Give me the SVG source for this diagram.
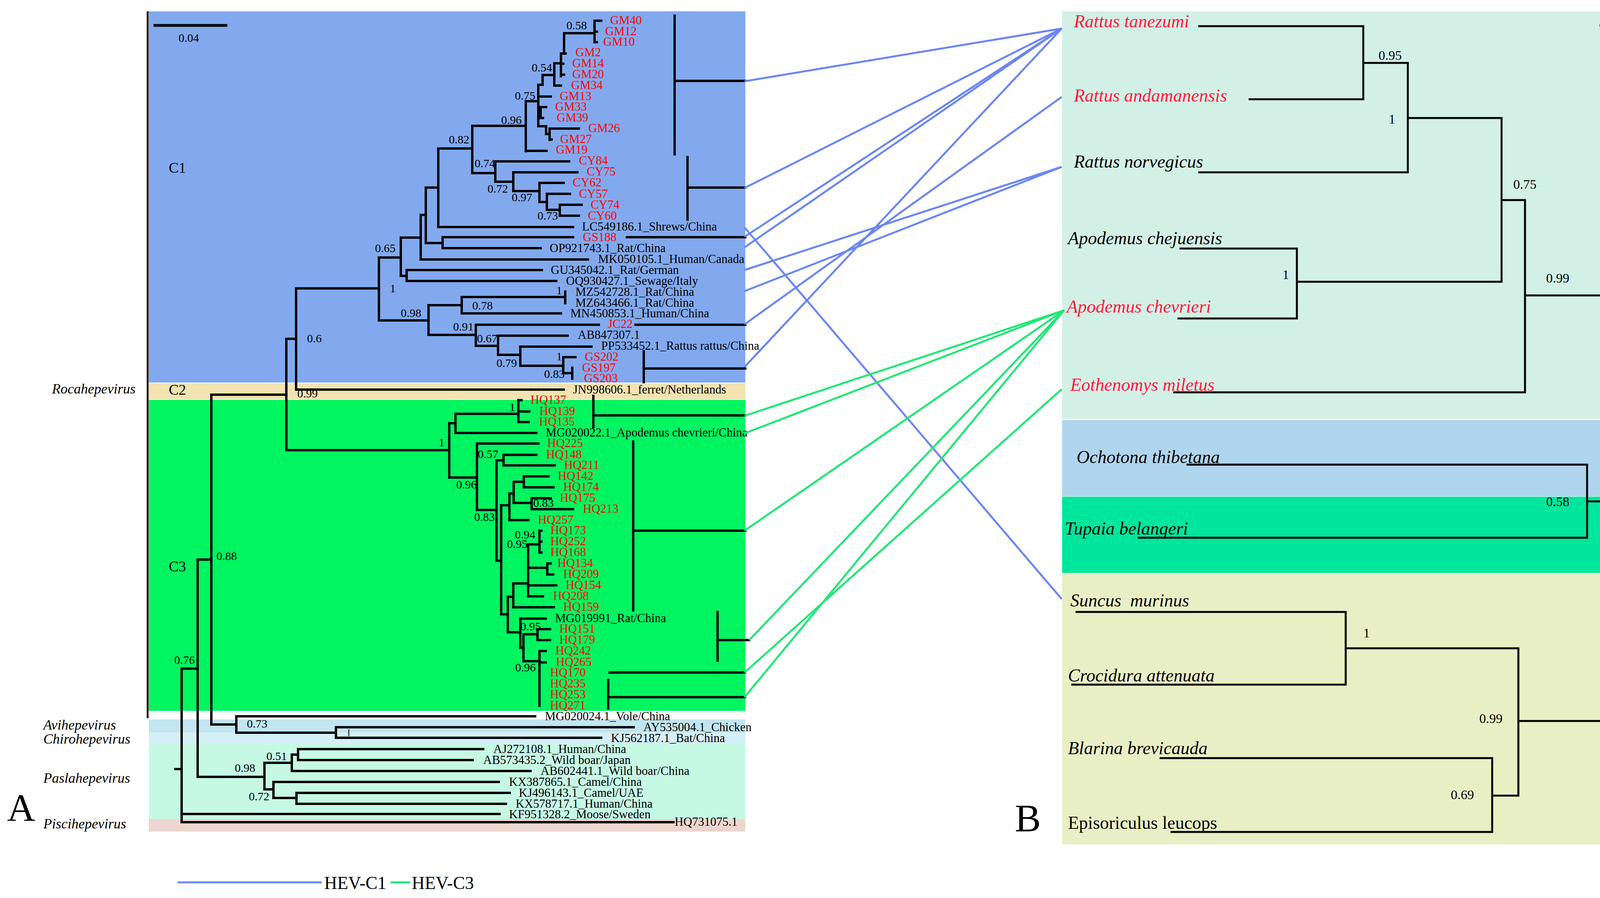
<svg xmlns="http://www.w3.org/2000/svg" width="4406" height="2298" viewBox="0 0 4406 2298">
<style>
text{font-family:"Liberation Serif","Times New Roman",serif;fill:#000}
.tip{font-size:31px}
.r{fill:#ff0000}
.rb{fill:#ff1a3c}
.sv{font-size:30px}
.svb{font-size:34px}
.it{font-style:italic;font-size:36px}
.cl{font-size:38px}
.tb{font-style:italic;font-size:46px}
.t{stroke:#000;stroke-width:6;fill:none;stroke-linecap:square}
.tr{stroke:#000;stroke-width:5;fill:none;stroke-linecap:square}
.c1{stroke:#6a86f2;stroke-width:5;fill:none}
.c3{stroke:#1ee873;stroke-width:5;fill:none}
</style>
<rect width="4406" height="2298" fill="#fff"/>
<g id="panelA-bands">
<rect x="381" y="29" width="1527" height="950" fill="#82a9ee"/>
<rect x="381" y="981" width="1527" height="40" fill="#f2e3b0"/>
<rect x="381" y="1023" width="1527" height="796" fill="#00f560"/>
<rect x="381" y="1841" width="1527" height="33" fill="#c2e5ef"/>
<rect x="381" y="1874" width="1527" height="28" fill="#d4eff6"/>
<rect x="381" y="1902" width="1527" height="194" fill="#c6f9e4"/>
<rect x="381" y="2096" width="1527" height="32" fill="#ecd6cf"/>
<line x1="378" y1="29" x2="378" y2="1838" stroke="#2a1a14" stroke-width="5"/>
</g>
<g id="panelA-labels">
<line x1="393" y1="65" x2="582" y2="65" stroke="#000" stroke-width="7"/>
<text x="457" y="107" class="sv">0.04</text>
<text x="432" y="442" class="cl">C1</text>
<text x="432" y="1010" class="cl">C2</text>
<text x="432" y="1462" class="cl">C3</text>
<text x="133" y="1007" class="it">Rocahepevirus</text>
<text x="111" y="1867" class="it">Avihepevirus</text>
<text x="111" y="1903" class="it">Chirohepevirus</text>
<text x="111" y="2003" class="it">Paslahepevirus</text>
<text x="111" y="2120" class="it">Piscihepevirus</text>
<text x="18" y="2101" font-size="100">A</text>
</g>
<g id="treeA">
<path class="t" d="M1522,53 V108 M1522,53 H1539 M1522,81 H1528 M1522,108 H1528 M1444,85 H1522 M1444,85 V137 M1436,137 H1448 M1436,137 V195 M1436,163 H1442 M1436,191 H1444 M1419,162 H1436 M1419,162 V219 M1419,219 H1436 M1389,192 H1419 M1389,192 V217 M1378,217 H1389 M1378,217 V323 M1378,247 H1410 M1378,274 H1398 M1384,274 V302 H1390 M1378,323 H1398 V343 H1407 M1407,329 V358 M1407,329 H1482 M1407,357 H1412 M1346,259 H1378 M1346,259 V387 M1346,386 H1399 M1209,322 H1346 M1209,322 V443 M1209,443 H1268 M1268,413 V465 M1268,413 H1457 M1268,465 H1314 M1314,441 V489 M1314,441 H1478 M1314,489 H1381 M1381,468 V517 M1381,468 H1443 M1381,517 H1400 M1400,496 V537 M1400,496 H1459 M1400,537 H1433 M1433,524 V552 M1433,524 H1489 M1433,552 H1482 M1122,380 H1209 M1122,380 V581 H1467 M1090,480 H1122 M1090,480 V622 H1133 M1133,607 V635 M1133,607 H1467 M1133,635 H1384 M1077,550 H1090 M1077,550 V664 H1505 M1026,608 H1077 M1026,608 V706 H1041 M1041,691 V719 M1041,691 H1387 M1041,719 H1424 M970,659 H1026 M970,659 V820 H1097 M1097,781 V857 M1097,781 H1182 M1182,760 V802 H1436 M1182,760 H1447 M1447,746 V776 M1097,857 H1218 M1218,831 V885 M1218,831 H1533 M1218,885 H1275 M1275,859 V908 M1275,859 H1453 M1275,908 H1332 M1332,887 V936 M1332,887 H1514 M1332,936 H1442 M1442,914 V955 M1442,914 H1473 M1442,955 H1465 M1465,941 V969 M758,738 H970 M758,738 V997 H1443 M733,867 H758 M733,867 V1152 H1150 M541,1010 H733 M541,1010 V1854 M508,1432 H541 M506,1432 V1988 M465,1711 H506 M465,1711 V2104 M449,1968 H465 M465,2083 H1279 M465,2104 H1724 M541,1854 H605 M605,1833 V1875 M605,1833 H1370 M605,1875 H860 M860,1861 V1888 M860,1861 H1622 M860,1888 H1539 M506,1988 H677 M677,1952 V2020 M677,1952 H747 M747,1931 V1973 M747,1931 H763 M763,1917 V1945 M763,1917 H1237 M763,1945 H1210 M747,1973 H1358 M677,2020 H700 M700,2001 V2042 M700,2001 H1277 M700,2042 H759 M759,2029 V2057 M759,2029 H1305 M759,2057 H1295"/>
<path class="t" d="M1150,1083 V1222 M1150,1083 H1166 M1166,1059 V1108 M1166,1059 H1327 M1327,1024 V1080 M1327,1024 H1335 M1327,1053 H1355 M1327,1080 H1353 M1166,1108 H1373 M1150,1222 H1221 M1221,1135 V1305 M1221,1135 H1378 M1221,1305 H1271 M1271,1178 V1435 M1271,1178 H1289 M1289,1164 V1191 M1289,1164 H1373 M1289,1191 H1420 M1271,1435 H1283 M1283,1293 V1572 M1283,1293 H1304 M1304,1263 V1331 M1304,1263 H1315 M1315,1233 V1287 M1315,1233 H1341 M1341,1219 V1247 M1341,1219 H1404 M1341,1247 H1417 M1315,1287 H1361 M1361,1275 V1303 M1361,1275 H1410 M1361,1303 H1467 M1304,1331 H1353 M1283,1572 H1300 M1300,1527 V1618 M1300,1527 H1314 M1314,1493 V1554 M1314,1554 H1418 M1314,1493 H1352 M1352,1393 V1526 M1352,1393 H1381 M1381,1358 V1414 M1381,1358 H1386 M1381,1386 H1386 M1381,1414 H1386 M1352,1453 H1401 M1401,1442 V1470 M1401,1442 H1410 M1401,1470 H1416 M1352,1498 H1424 M1352,1526 H1390 M1300,1618 H1332 M1332,1583 V1658 M1332,1583 H1397 M1332,1658 H1340 M1340,1623 V1692 M1340,1623 H1376 M1376,1610 V1638 M1376,1610 H1408 M1376,1638 H1408 M1340,1692 H1381 M1381,1666 V1806 M1381,1666 H1397 M1381,1695 H1397"/>
<line x1="893" y1="1866" x2="893" y2="1884" stroke="#000" stroke-width="2"/>
<path class="t" d="M1727,40 V395 M1727,207 H1908 M1760,402 V562 M1760,480 H1908 M1605,607 H1908 M1627,831 H1908 M1648,899 V978 M1648,943 H1908 M1519,1013 V1093 M1519,1063 H1908 M1621,1130 V1562 M1621,1358 H1908 M1837,1566 V1691 M1837,1638 H1918 M1561,1721 H1907 M1557,1740 V1813 M1557,1784 H1907"/>
</g>
<g id="supportA">
<text x="1450" y="75" class="sv">0.58</text>
<text x="1361" y="183" class="sv">0.54</text>
<text x="1318" y="255" class="sv">0.75</text>
<text x="1283" y="317" class="sv">0.96</text>
<text x="1149" y="367" class="sv">0.82</text>
<text x="1215" y="428" class="sv">0.74</text>
<text x="1248" y="493" class="sv">0.72</text>
<text x="1310" y="515" class="sv">0.97</text>
<text x="1376" y="562" class="sv">0.73</text>
<text x="960" y="645" class="sv">0.65</text>
<text x="998" y="748" class="sv">1</text>
<text x="1026" y="811" class="sv">0.98</text>
<text x="1424" y="753" class="sv">1</text>
<text x="1209" y="792" class="sv">0.78</text>
<text x="1160" y="846" class="sv">0.91</text>
<text x="1221" y="876" class="sv">0.67</text>
<text x="1271" y="939" class="sv">0.79</text>
<text x="1424" y="922" class="sv">1</text>
<text x="1393" y="967" class="sv">0.83</text>
<text x="786" y="876" class="sv">0.6</text>
<text x="761" y="1017" class="sv">0.99</text>
<text x="1123" y="1142" class="sv">1</text>
<text x="1304" y="1052" class="sv">1</text>
<text x="1168" y="1250" class="sv">0.96</text>
<text x="1223" y="1172" class="sv">0.57</text>
<text x="1214" y="1333" class="sv">0.83</text>
<text x="1365" y="1297" class="sv">0.83</text>
<text x="1318" y="1378" class="sv">0.94</text>
<text x="1298" y="1402" class="sv">0.95</text>
<text x="1332" y="1613" class="sv">0.95</text>
<text x="1319" y="1718" class="sv">0.96</text>
<text x="554" y="1433" class="sv">0.88</text>
<text x="446" y="1699" class="sv">0.76</text>
<text x="632" y="1862" class="sv">0.73</text>
<text x="601" y="1975" class="sv">0.98</text>
<text x="682" y="1945" class="sv">0.51</text>
<text x="637" y="2048" class="sv">0.72</text>
</g>
<g id="tipsC1" class="tip">
<text x="1562" y="62" class="r">GM40</text>
<text x="1549" y="90" class="r">GM12</text>
<text x="1544" y="117" class="r">GM10</text>
<text x="1473" y="144" class="r">GM2</text>
<text x="1465" y="172" class="r">GM14</text>
<text x="1465" y="200" class="r">GM20</text>
<text x="1462" y="228" class="r">GM34</text>
<text x="1433" y="256" class="r">GM13</text>
<text x="1421" y="283" class="r">GM33</text>
<text x="1425" y="311" class="r">GM39</text>
<text x="1506" y="338" class="r">GM26</text>
<text x="1434" y="366" class="r">GM27</text>
<text x="1423" y="393" class="r">GM19</text>
<text x="1482" y="421" class="r">CY84</text>
<text x="1502" y="449" class="r">CY75</text>
<text x="1466" y="477" class="r">CY62</text>
<text x="1482" y="506" class="r">CY57</text>
<text x="1512" y="534" class="r">CY74</text>
<text x="1505" y="562" class="r">CY60</text>
<text x="1490" y="590">LC549186.1_Shrews/China</text>
<text x="1492" y="617" class="r">GS188</text>
<text x="1407" y="645">OP921743.1_Rat/China</text>
<text x="1531" y="673">MK050105.1_Human/Canada</text>
<text x="1410" y="701">GU345042.1_Rat/German</text>
<text x="1449" y="729">OQ930427.1_Sewage/Italy</text>
<text x="1473" y="757">MZ542728.1_Rat/China</text>
<text x="1473" y="785">MZ643466.1_Rat/China</text>
<text x="1460" y="812">MN450853.1_Human/China</text>
<text x="1556" y="839" class="r">JC22</text>
<text x="1479" y="867">AB847307.1</text>
<text x="1539" y="895">PP533452.1_Rattus rattus/China</text>
<text x="1497" y="923" class="r">GS202</text>
<text x="1490" y="951" class="r">GS197</text>
<text x="1495" y="978" class="r">GS203</text>
</g>
<g id="tipsC2" class="tip">
<text x="1467" y="1007">JN998606.1_ferret/Netherlands</text>
</g>
<g id="tipsC3" class="tip">
<text x="1358" y="1033" class="r">HQ137</text>
<text x="1381" y="1062" class="r">HQ139</text>
<text x="1380" y="1089" class="r">HQ135</text>
<text x="1397" y="1117">MG020022.1_Apodemus chevrieri/China</text>
<text x="1401" y="1144" class="r">HQ225</text>
<text x="1398" y="1173" class="r">HQ148</text>
<text x="1444" y="1200" class="r">HQ211</text>
<text x="1428" y="1228" class="r">HQ142</text>
<text x="1442" y="1256" class="r">HQ174</text>
<text x="1433" y="1284" class="r">HQ175</text>
<text x="1492" y="1312" class="r">HQ213</text>
<text x="1377" y="1340" class="r">HQ257</text>
<text x="1409" y="1367" class="r">HQ173</text>
<text x="1409" y="1395" class="r">HQ252</text>
<text x="1409" y="1423" class="r">HQ168</text>
<text x="1427" y="1451" class="r">HQ134</text>
<text x="1442" y="1479" class="r">HQ209</text>
<text x="1448" y="1507" class="r">HQ154</text>
<text x="1416" y="1535" class="r">HQ208</text>
<text x="1442" y="1563" class="r">HQ159</text>
<text x="1421" y="1592">MG019991_Rat/China</text>
<text x="1432" y="1619" class="r">HQ151</text>
<text x="1432" y="1647" class="r">HQ179</text>
<text x="1422" y="1675" class="r">HQ242</text>
<text x="1423" y="1704" class="r">HQ265</text>
<text x="1408" y="1731" class="r">HQ170</text>
<text x="1408" y="1759" class="r">HQ235</text>
<text x="1408" y="1787" class="r">HQ253</text>
<text x="1408" y="1815" class="r">HQ271</text>
</g>
<g id="tipsOther" class="tip">
<text x="1395" y="1843">MG020024.1_Vole/China</text>
<text x="1647" y="1871">AY535004.1_Chicken</text>
<text x="1564" y="1899">KJ562187.1_Bat/China</text>
<text x="1263" y="1927">AJ272108.1_Human/China</text>
<text x="1237" y="1955">AB573435.2_Wild boar/Japan</text>
<text x="1384" y="1983">AB602441.1_Wild boar/China</text>
<text x="1303" y="2011">KX387865.1_Camel/China</text>
<text x="1328" y="2039">KJ496143.1_Camel/UAE</text>
<text x="1320" y="2067">KX578717.1_Human/China</text>
<text x="1303" y="2094">KF951328.2_Moose/Sweden</text>
<text x="1727" y="2113">HQ731075.1</text>
</g>
<g id="panelB-bands">
<rect x="2719" y="29" width="1661" height="1043" fill="#d3f0e6"/>
<rect x="2719" y="1075" width="1661" height="195" fill="#b0d5ee"/>
<rect x="2719" y="1271" width="1661" height="195" fill="#00e69c"/>
<rect x="2719" y="1466" width="1661" height="695" fill="#e9efc5"/>
</g>
<g id="treeB">
<path class="tr" d="M3070,67 H3490 V254 H3199 M3490,161 H3604 M3604,161 V441 H3070 M3604,302 H3844 M3844,302 V721 H3320 M3022,636 H3320 V815 H3017 M3844,512 H3904 M3904,512 V1004 H3006 M3904,756 H4101 V1846 M3040,1189 H4063 V1376 H2915 M4063,1283 H4101 M2756,1566 H3445 V1752 H2745 M3445,1659 H3887 V2036 M3887,1845 H4101 M2971,1940 H3820 V2129 H2999 M3820,2036 H3887"/>
<line x1="4095" y1="65" x2="4254" y2="65" stroke="#000" stroke-width="6"/>
<text x="4137" y="123" font-size="44">0.02</text>
<text x="3529" y="153" class="svb">0.95</text>
<text x="3555" y="316" class="svb">1</text>
<text x="3874" y="483" class="svb">0.75</text>
<text x="3283" y="714" class="svb">1</text>
<text x="3958" y="723" class="svb">0.99</text>
<text x="3958" y="1295" class="svb">0.58</text>
<text x="3490" y="1631" class="svb">1</text>
<text x="3787" y="1850" class="svb">0.99</text>
<text x="3714" y="2045" class="svb">0.69</text>
<text x="4102" y="516" class="tb">Rodentia</text>
<text x="4102" y="1157" class="tb">Lagomorpha</text>
<text x="4102" y="1368" class="tb">Scandentia</text>
<text x="4102" y="1882" class="tb">Insectivora</text>
<text x="2598" y="2127" font-size="100">B</text>
</g>
<g id="host-rattus-tanezumi"><text x="2749" y="70" class="tb rb">Rattus tanezumi</text></g>
<g id="host-rattus-andamanensis"><text x="2749" y="260" class="tb rb">Rattus andamanensis</text></g>
<g id="host-rattus-norvegicus"><text x="2749" y="429" class="tb">Rattus norvegicus</text></g>
<g id="host-apodemus-chejuensis"><text x="2734" y="625" class="tb">Apodemus chejuensis</text></g>
<g id="host-apodemus-chevrieri"><text x="2731" y="800" class="tb rb">Apodemus chevrieri</text></g>
<g id="host-eothenomys-miletus"><text x="2740" y="1000" class="tb rb">Eothenomys miletus</text></g>
<g id="host-ochotona-thibetana"><text x="2756" y="1185" class="tb">Ochotona thibetana</text></g>
<g id="host-tupaia-belangeri"><text x="2726" y="1368" class="tb">Tupaia belangeri</text></g>
<g id="host-suncus-murinus"><text x="2740" y="1552" class="tb" xml:space="preserve">Suncus  murinus</text></g>
<g id="host-crocidura-attenuata"><text x="2734" y="1744" class="tb">Crocidura attenuata</text></g>
<g id="host-blarina-brevicauda"><text x="2734" y="1930" class="tb">Blarina brevicauda</text></g>
<g id="host-episoriculus-leucops"><text x="2734" y="2121" font-size="46">Episoriculus leucops</text></g>
<g id="connectors">
<line class="c1" x1="1906" y1="208" x2="2718" y2="73"/>
<line class="c1" x1="1906" y1="481" x2="2718" y2="73"/>
<line class="c1" x1="1906" y1="606" x2="2718" y2="73"/>
<line class="c1" x1="1906" y1="633" x2="2718" y2="73"/>
<line class="c1" x1="1906" y1="939" x2="2718" y2="73"/>
<line class="c1" x1="1906" y1="582" x2="2718" y2="1533"/>
<line class="c1" x1="1906" y1="691" x2="2718" y2="427"/>
<line class="c1" x1="1906" y1="745" x2="2718" y2="427"/>
<line class="c1" x1="1906" y1="830" x2="2718" y2="248"/>
<line class="c3" x1="1906" y1="1064" x2="2724" y2="794"/>
<line class="c3" x1="1906" y1="1109" x2="2724" y2="794"/>
<line class="c3" x1="1906" y1="1358" x2="2724" y2="794"/>
<line class="c3" x1="1918" y1="1638" x2="2724" y2="794"/>
<line class="c3" x1="1906" y1="1784" x2="2724" y2="794"/>
<line class="c3" x1="1906" y1="1721" x2="2718" y2="996"/>
</g>
<g id="legend">
<line class="c1" x1="455" y1="2258" x2="824" y2="2258"/>
<text x="830" y="2275" font-size="46">HEV-C1</text>
<line class="c3" x1="1000" y1="2258" x2="1050" y2="2258"/>
<text x="1054" y="2275" font-size="46">HEV-C3</text>
</g>
</svg>
